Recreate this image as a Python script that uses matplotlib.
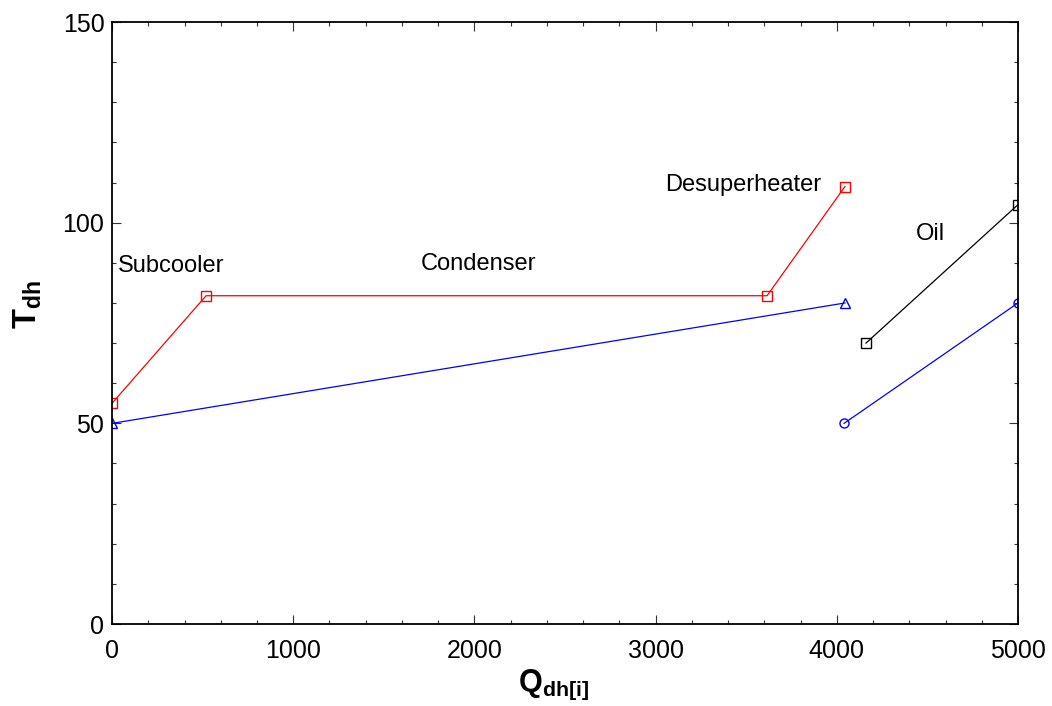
import matplotlib
matplotlib.use("Agg")
import matplotlib.pyplot as plt
from matplotlib.ticker import MultipleLocator

plt.rcParams['font.family'] = ['Liberation Sans', 'DejaVu Sans']
plt.rcParams['mathtext.fontset'] = 'custom'
plt.rcParams['mathtext.rm'] = 'Liberation Sans'
plt.rcParams['mathtext.bf'] = 'Liberation Sans:bold'

# Refrigerant side (red squares)
ref_q = [0, 519, 3615, 4045]
ref_t = [55, 81.8, 81.8, 109]
# District heating water through condenser (blue triangles)
dh_q = [0, 4045]
dh_t = [50, 80]
# Oil (black squares)
oil_q = [4161, 5000]
oil_t = [70, 104.5]
# District heating water through oil cooler (blue circles)
dh2_q = [4040, 5000]
dh2_t = [50, 80]

labels = ["Subcooler", "Condenser", "Desuperheater", "Oil"]
label_x = [33, 1705, 3052, 4437]
label_y = [89.2, 89.7, 109.4, 97.2]

fig = plt.figure(figsize=(10.52, 7.06), dpi=100)
ax = fig.add_axes([0.1065, 0.1161, 0.8612, 0.8527])

mk = dict(markersize=6.5, markerfacecolor='none', markeredgewidth=1.0, linewidth=0.9)
ax.plot(ref_q, ref_t, color='#ff0000', marker='s', markeredgecolor='#ff0000', **mk)
ax.plot(dh_q, dh_t, color='#0000ff', marker='^', markeredgecolor='#0000ff', **mk)
ax.plot(oil_q, oil_t, color='black', marker='s', markeredgecolor='black', **mk)
ax.plot(dh2_q, dh2_t, color='#0000ff', marker='o', markeredgecolor='#0000ff', **mk)

for s, x, y in zip(labels, label_x, label_y):
    ax.text(x, y, s, fontsize=17, ha='left', va='center', color='black')

ax.set_xlim(0, 5000)
ax.set_ylim(0, 150)
ax.xaxis.set_major_locator(MultipleLocator(1000))
ax.xaxis.set_minor_locator(MultipleLocator(200))
ax.yaxis.set_major_locator(MultipleLocator(50))
ax.yaxis.set_minor_locator(MultipleLocator(10))

ax.tick_params(which='both', direction='in', top=True, right=True, width=0.8, color='#333333')
ax.tick_params(which='major', length=6.5)
ax.tick_params(which='minor', length=3.2)
ax.tick_params(axis='x', which='major', labelsize=18, pad=11)
ax.tick_params(axis='y', which='major', labelsize=18, pad=5.5)
for sp in ax.spines.values():
    sp.set_linewidth(1.3)

ax.set_xlabel(r'$\mathbf{Q}_{\mathbf{dh[i]}}$', fontsize=22, labelpad=3, x=0.487)
ax.set_ylabel(r'$\mathbf{T}_{\mathbf{dh}}$', fontsize=23.5, labelpad=13, y=0.53)

fig.savefig('out.png', dpi=100)
